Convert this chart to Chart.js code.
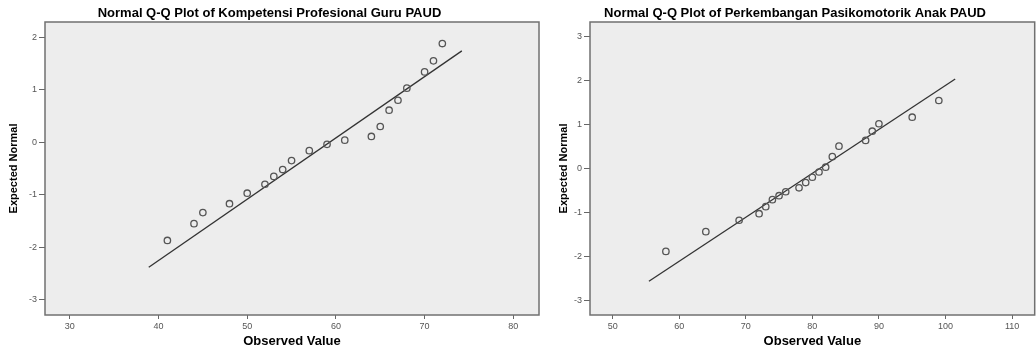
<!DOCTYPE html>
<html><head><meta charset="utf-8">
<script src="https://cdn.jsdelivr.net/npm/chart.js@4.4.1/dist/chart.umd.min.js"></script>
<style>
html,body{margin:0;padding:0;background:#fff;overflow:hidden;width:1036px;height:349px;position:relative;}
#c1{position:absolute;left:0;top:0;}
#c2{position:absolute;left:550px;top:0;}
</style></head><body>
<canvas id="c1" width="545" height="349"></canvas>
<canvas id="c2" width="490" height="349"></canvas>
<script>
// ---- Chart 1: Kompetensi Profesional Guru PAUD ----
const title1 = 'Normal Q-Q Plot of Kompetensi Profesional Guru PAUD';
const observed1 = [41, 44, 45, 48, 50, 52, 53, 54, 55, 57, 59, 61, 64, 65, 66, 67, 68, 70, 71, 72];
const expected1 = [-1.87, -1.55, -1.34, -1.17, -0.97, -0.80, -0.65, -0.52, -0.35, -0.16, -0.04, 0.04, 0.11, 0.30, 0.61, 0.80, 1.03, 1.34, 1.55, 1.88];
const lineX1 = [38.9, 74.2];
const lineY1 = [-2.38, 1.74];
const xTicks1 = [30, 40, 50, 60, 70, 80];
const yTicks1 = [-3, -2, -1, 0, 1, 2];

// ---- Chart 2: Perkembangan Pasikomotorik Anak PAUD ----
const title2 = 'Normal Q-Q Plot of Perkembangan Pasikomotorik Anak PAUD';
const observed2 = [58, 64, 69, 72, 73, 74, 75, 76, 78, 79, 80, 81, 82, 83, 84, 88, 89, 90, 95, 99];
const expected2 = [-1.89, -1.44, -1.18, -1.03, -0.87, -0.71, -0.62, -0.53, -0.44, -0.32, -0.20, -0.08, 0.03, 0.27, 0.51, 0.64, 0.85, 1.02, 1.17, 1.55];
const lineX2 = [55.45, 101.46];
const lineY2 = [-2.57, 2.04];
const xTicks2 = [50, 60, 70, 80, 90, 100, 110];
const yTicks2 = [-3, -2, -1, 0, 1, 2, 3];

const xLabel = 'Observed Value';
const yLabel = 'Expected Normal';

const FONT = "'Liberation Sans', Arial, sans-serif";

const framePlugin = {
  id: 'frame',
  beforeDraw(chart) {
    const a = chart.chartArea, ctx = chart.ctx;
    ctx.save();
    ctx.fillStyle = '#ededed';
    ctx.fillRect(a.left, a.top, a.right - a.left, a.bottom - a.top);
    ctx.restore();
  },
  afterDraw(chart) {
    const a = chart.chartArea, ctx = chart.ctx;
    ctx.save();
    ctx.strokeStyle = '#707070';
    ctx.lineWidth = 1.5;
    ctx.strokeRect(a.left, a.top, a.right - a.left, a.bottom - a.top);
    ctx.restore();
  }
};

function makeChart(id, cfg) {
  const pts = cfg.obs.map((v, i) => ({x: v, y: cfg.exp[i]}));
  const line = cfg.lx.map((v, i) => ({x: v, y: cfg.ly[i]}));
  return new Chart(document.getElementById(id), {
    type: 'scatter',
    data: {
      datasets: [
        {
          type: 'line', data: line, showLine: true, pointRadius: 0,
          borderColor: '#333333', borderWidth: 1.3, fill: false, order: 2
        },
        {
          data: pts, pointRadius: 3.2, pointBorderWidth: 1.3,
          borderColor: '#555555', backgroundColor: 'rgba(0,0,0,0)',
          pointBackgroundColor: 'rgba(0,0,0,0)', pointBorderColor: '#555555', order: 1
        }
      ]
    },
    options: {
      responsive: false,
      devicePixelRatio: 1,
      animation: false,
      layout: { padding: { left: 0, right: cfg.padRight, top: 0, bottom: 0 } },
      plugins: {
        legend: { display: false },
        tooltip: { enabled: false },
        title: {
          display: true, text: cfg.title, color: '#000',
          font: { family: FONT, size: 13, weight: 'bold', lineHeight: 1 },
          padding: { top: 7, bottom: 2 }
        }
      },
      scales: {
        x: {
          type: 'linear', min: cfg.xmin, max: cfg.xmax,
          afterBuildTicks: s => { s.ticks = cfg.xt.map(v => ({value: v})); },
          afterFit: s => { s.height = 34; },
          ticks: { autoSkip: false, maxRotation: 0, color: '#555', padding: 2,
                   font: { family: FONT, size: 9 } },
          grid: { drawOnChartArea: false, drawTicks: true, tickLength: 4, color: '#666' },
          border: { display: false },
          title: { display: true, text: xLabel, color: '#000',
                   font: { family: FONT, size: 13, weight: 'bold', lineHeight: 1 },
                   padding: { top: 0, bottom: 1 } }
        },
        y: {
          type: 'linear', min: cfg.ymin, max: cfg.ymax,
          afterBuildTicks: s => { s.ticks = cfg.yt.map(v => ({value: v})); },
          afterFit: s => { s.width = cfg.yw; },
          ticks: { autoSkip: false, color: '#555', padding: 2,
                   font: { family: FONT, size: 9 } },
          grid: { drawOnChartArea: false, drawTicks: true, tickLength: 6, color: '#666' },
          border: { display: false },
          title: { display: true, text: yLabel, color: '#000',
                   font: { family: FONT, size: 11, weight: 'bold', lineHeight: 1.2 },
                   padding: { top: 7, bottom: 0 } }
        }
      }
    },
    plugins: [framePlugin]
  });
}

makeChart('c1', {
  title: title1, obs: observed1, exp: expected1, lx: lineX1, ly: lineY1,
  xt: xTicks1, yt: yTicks1, xmin: 27.2, xmax: 82.9, ymin: -3.29, ymax: 2.29,
  yw: 45, padRight: 6
});
makeChart('c2', {
  title: title2, obs: observed2, exp: expected2, lx: lineX2, ly: lineY2,
  xt: xTicks2, yt: yTicks2, xmin: 46.6, xmax: 113.4, ymin: -3.34, ymax: 3.34,
  yw: 40, padRight: 0
});
</script>
</body></html>
